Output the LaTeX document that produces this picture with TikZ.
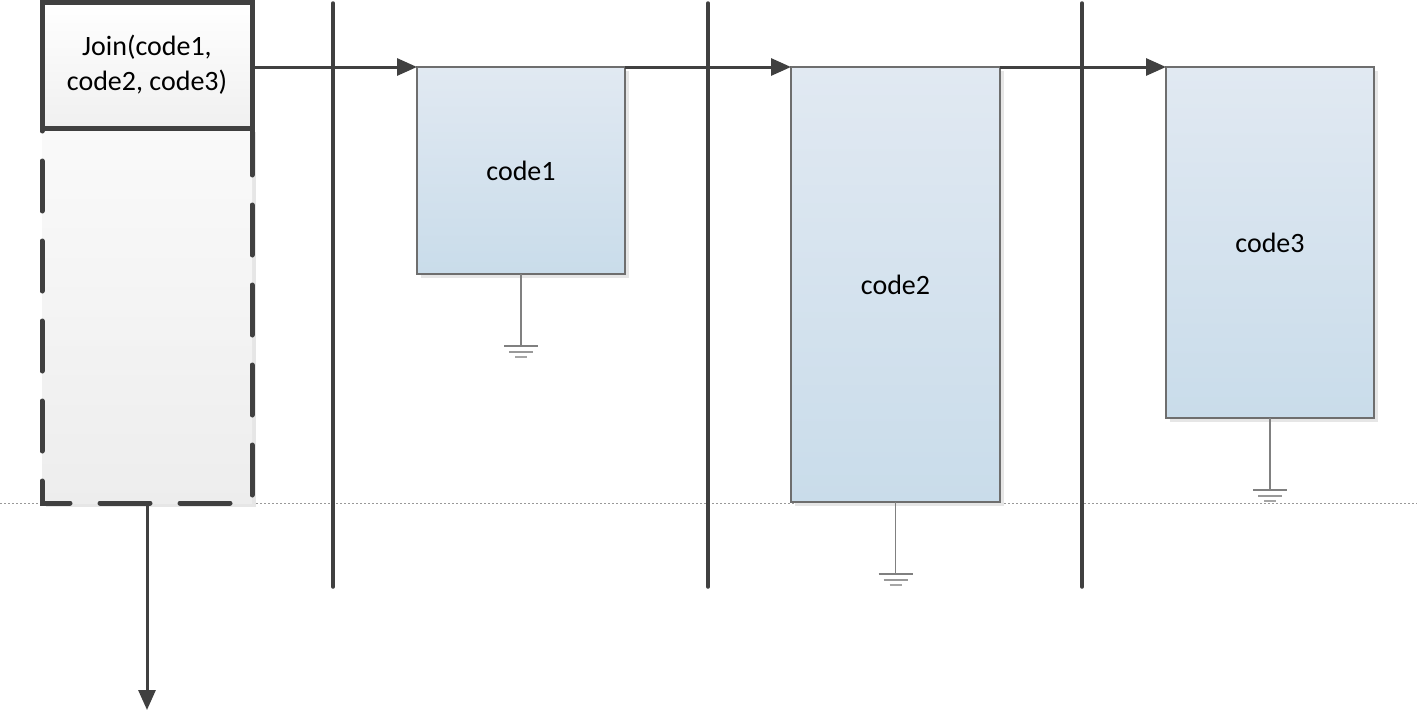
\documentclass[tikz,border=0pt]{standalone}
\usepackage{fontspec}
\setmainfont{Carlito}
\usetikzlibrary{arrows.meta}
\definecolor{ink}{HTML}{404040}
\definecolor{boxtop}{HTML}{E1E9F2}
\definecolor{boxbot}{HTML}{C9DCEA}
\definecolor{boxline}{HTML}{6E6E6E}
\definecolor{shade}{HTML}{E6E6E6}
\definecolor{gnd}{HTML}{808080}
\tikzset{
  codebox/.style={draw=boxline, line width=1.2pt, top color=boxtop, bottom color=boxbot,
    anchor=north west, outer sep=0pt, inner sep=0pt, font=\fontsize{28}{35}\selectfont},
  shadowbox/.style={fill=shade, draw=none},
  joinbox/.style={draw=ink, line width=5pt, top color=white, bottom color=black!6,
    anchor=north west, outer sep=0pt, inner sep=0pt, align=center,
    font=\fontsize{28}{35}\selectfont},
  actbox/.style={top color=black!2, bottom color=black!7, draw=none, anchor=north west,
    outer sep=0pt, inner sep=0pt},
  dashframe/.style={draw=ink, line width=5pt, line cap=round, dash pattern=on 50pt off 30pt, dash phase=3pt},
  lifeline/.style={draw=ink, line width=3.5pt, line cap=round},
  msg/.style={draw=ink, line width=3pt, -{Triangle[length=20pt,width=17pt]}},
  gline/.style={draw=gnd, line width=1.3pt},
  dotline/.style={draw=black!40, line width=1pt, dash pattern=on 2pt off 2pt}
}
\begin{document}
\begin{tikzpicture}[x=1pt,y=-1pt]
\useasboundingbox (0,0) rectangle (1417,712);
% dotted baseline
\coordinate (dl) at (0,503);
\coordinate (dr) at (1417,503);
\draw[dotline] (dl) -- (dr);
% lifelines
\foreach \i/\x in {1/333,2/708,3/1082}{
  \coordinate (lt\i) at (\x,3);
  \coordinate (lb\i) at (\x,587);
  \draw[lifeline] (lt\i) -- (lb\i);
}
% shadows
\fill[shadowbox] (46,132) rectangle (256,507);
\fill[shadowbox] (421,71) rectangle (629,278);
\fill[shadowbox] (795,71) rectangle (1004,506);
\fill[shadowbox] (1170,71) rectangle (1378,422);
% activation (dashed)
\node[actbox, minimum width=210pt, minimum height=375pt] (act) at (42,128) {};
\draw[dashframe] (act.north east) -- (act.south east) -- (act.south west) -- (act.north west);
% join box
\node[joinbox, minimum width=210pt, minimum height=126pt] (join) at (42,2) {Join(code1,\\code2, code3)};
% code boxes
\node[codebox, minimum width=208pt, minimum height=207pt] (c1) at (417,67) {code1};
\node[codebox, minimum width=209pt, minimum height=435pt] (c2) at (791,67) {code2};
\node[codebox, minimum width=208pt, minimum height=351pt] (c3) at (1166,67) {code3};
% messages
\coordinate (jo) at (join.east |- c1.north west);
\draw[msg] (jo) -- (c1.north west);
\draw[msg] (c1.north east) -- (c2.north west);
\draw[msg] (c2.north east) -- (c3.north west);
% return arrow
\coordinate (retend) at (147,710);
\draw[msg] (act.south) -- (retend);
% grounds
\foreach \n in {c1,c2,c3}{
  \coordinate (g\n) at ([yshift=-72pt]\n.south);
  \draw[gline] (\n.south) -- (g\n);
  \draw[gline] ([xshift=-17pt]g\n) -- ([xshift=17pt]g\n);
  \draw[gline, draw=gnd!80] ([xshift=-12pt,yshift=-6pt]g\n) -- ([xshift=12pt,yshift=-6pt]g\n);
  \draw[gline, draw=gnd!70] ([xshift=-6pt,yshift=-11pt]g\n) -- ([xshift=6pt,yshift=-11pt]g\n);
}
\end{tikzpicture}
\end{document}
